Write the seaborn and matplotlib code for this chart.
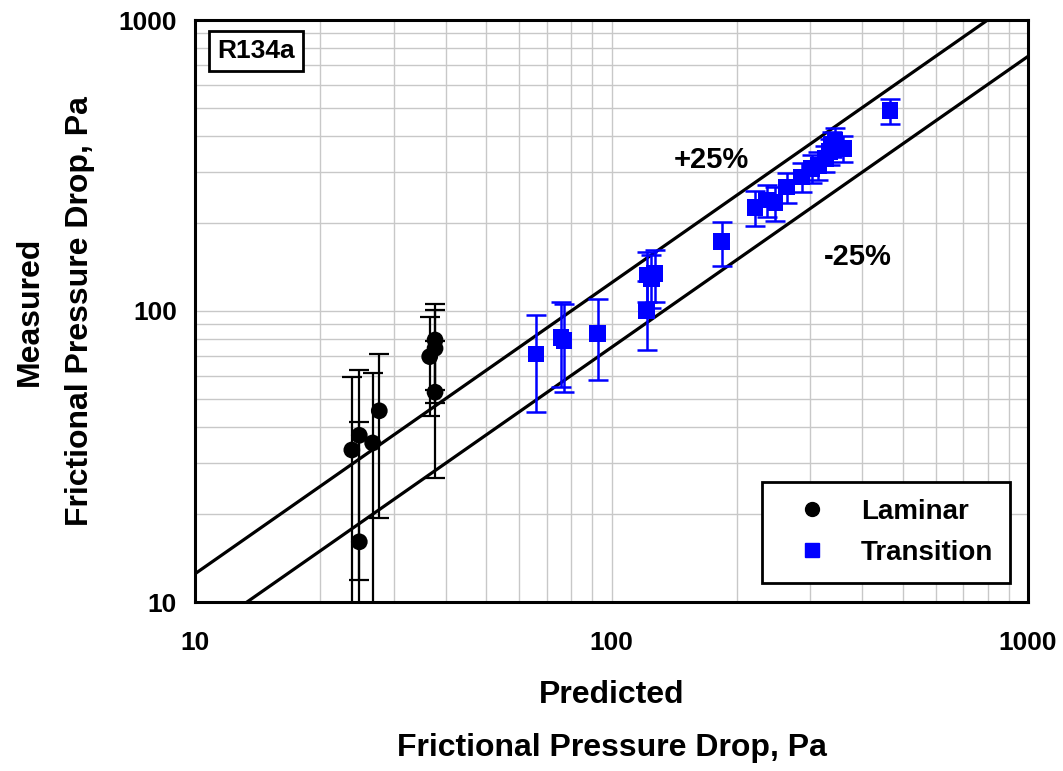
import numpy as np
import pandas as pd
import matplotlib
matplotlib.use("Agg")
import matplotlib.pyplot as plt
import seaborn as sns
from matplotlib.lines import Line2D

# ---- data ----
lam_pred = [23.8, 24.8, 24.8, 26.7, 27.7, 37.7, 37.7, 36.6, 37.7]
lam_meas = [33.3, 37.4, 16.1, 35.2, 45.4, 79.5, 74.4, 69.7, 52.6]
lam_err  = [26.0, 25.5, 25.6, 26.0, 26.0, 26.0, 26.0, 26.0, 26.0]

tr_pred = [65.9, 75.6, 76.9, 92.7, 121.5, 121.9, 127.0, 124.5, 183.7,
           221.0, 236.0, 247.0, 263.5, 286.0, 302.5, 314.0, 326.0, 334.0,
           338.0, 344.0, 360.0, 466.5]
tr_meas = [71.1, 81.2, 79.1, 83.8, 100.2, 133.0, 134.8, 129.0, 173.0,
           227.0, 240.6, 235.5, 267.0, 289.0, 309.0, 317.0, 335.0, 353.0,
           375.0, 387.0, 362.0, 488.0]
tr_err  = [26.0, 26.5, 26.5, 26.0, 27.0, 26.0, 27.0, 27.0, 30.0,
           31.0, 31.0, 31.0, 32.0, 33.0, 34.0, 34.0, 35.0, 36.0,
           37.0, 38.0, 37.0, 48.0]

band_x = [10, 1000]
band_factors = [1.25, 0.75]
band_labels = ["+25%", "-25%"]

xticks = [10, 100, 1000]
yticks = [10, 100, 1000]

# ---- styling ----
sns.set_style("white")
plt.rcParams['font.family'] = ['Liberation Sans', 'DejaVu Sans']
plt.rcParams['font.weight'] = 'bold'
plt.rcParams['text.color'] = 'black'
plt.rcParams['axes.labelcolor'] = 'black'
plt.rcParams['xtick.color'] = 'black'
plt.rcParams['ytick.color'] = 'black'

fig = plt.figure(figsize=(10.63, 7.71), dpi=100)
ax = fig.add_axes([195/1063, 1-602/771, (1028-195)/1063, (602-20)/771])

ax.set_xscale('log')
ax.set_yscale('log')
ax.set_xlim(10, 1000)
ax.set_ylim(10, 1000)

ax.grid(True, which='both', color='#c8c8c8', linewidth=1.0, zorder=0)
ax.set_axisbelow(True)

# diagonal +/-25% lines
for f, lab in zip(band_factors, band_labels):
    dfl = pd.DataFrame({"x": band_x, "y": [v * f for v in band_x]})
    sns.lineplot(data=dfl, x="x", y="y", ax=ax, color='black', linewidth=2.3,
                 legend=False, zorder=3)

# error bars
ax.errorbar(lam_pred, lam_meas, yerr=lam_err, fmt='none', ecolor='black',
            elinewidth=1.6, capsize=7, capthick=1.6, zorder=4)
ax.errorbar(tr_pred, tr_meas, yerr=tr_err, fmt='none', ecolor='#0000ff',
            elinewidth=1.8, capsize=7.5, capthick=1.8, zorder=4)

df = pd.DataFrame({
    "pred": lam_pred + tr_pred,
    "meas": lam_meas + tr_meas,
    "regime": ["Laminar"] * len(lam_pred) + ["Transition"] * len(tr_pred),
})
sns.scatterplot(data=df, x="pred", y="meas", hue="regime", style="regime",
                palette={"Laminar": "black", "Transition": "#0000ff"},
                markers={"Laminar": "o", "Transition": "s"},
                s=145, edgecolor='none', linewidth=0, ax=ax, legend=False,
                zorder=5)

ax.set_xlim(10, 1000)
ax.set_ylim(10, 1000)
ax.set_xticks(xticks)
ax.set_yticks(yticks)
ax.set_xticklabels([str(t) for t in xticks])
ax.set_yticklabels([str(t) for t in yticks])
ax.xaxis.set_minor_formatter(matplotlib.ticker.NullFormatter())
ax.yaxis.set_minor_formatter(matplotlib.ticker.NullFormatter())
ax.tick_params(which='minor', length=0)
ax.tick_params(which='major', direction='out', length=6, width=1.5,
               color='black', labelsize=19, labelcolor='black')
ax.tick_params(axis='x', pad=15)
ax.tick_params(axis='y', pad=7)
for lab in ax.get_xticklabels() + ax.get_yticklabels():
    lab.set_fontweight('bold')
ax.set_xlabel("")
ax.set_ylabel("")

for sp in ax.spines.values():
    sp.set_visible(True)
    sp.set_color('black')
    sp.set_linewidth(2.2)

# annotations
ax.text(0.62, 0.76, band_labels[0], transform=ax.transAxes, fontsize=21,
        fontweight='bold', ha='center', va='center')
ax.text(0.796, 0.592, band_labels[1], transform=ax.transAxes, fontsize=21,
        fontweight='bold', ha='center', va='center')

ax.text(0.0732, 0.9467, "R134a", transform=ax.transAxes, fontsize=19,
        fontweight='bold', ha='center', va='center', zorder=6,
        bbox=dict(boxstyle='square,pad=0.3', facecolor='white',
                  edgecolor='black', linewidth=2))

# legend
handles = [
    Line2D([], [], linestyle='none', marker='o', color='black', markersize=10),
    Line2D([], [], linestyle='none', marker='s', color='#0000ff', markersize=10),
]
leg = ax.legend(handles, ["Laminar", "Transition"], loc='lower right',
                bbox_to_anchor=(0.978, 0.033), prop={'size': 20, 'weight': 'bold'},
                frameon=True, fancybox=False, framealpha=1, edgecolor='black',
                handlelength=2.4, handletextpad=0.55, borderpad=0.6,
                borderaxespad=0, labelspacing=0.55)
leg.get_frame().set_linewidth(2)
leg.set_zorder(7)

# axis labels as separate lines
cx = (195 + 1028) / 2 / 1063
fig.text(cx, 1 - 695/771, "Predicted", fontsize=23, fontweight='bold',
         ha='center', va='center')
fig.text(cx, 1 - 748/771, "Frictional Pressure Drop, Pa", fontsize=23,
         fontweight='bold', ha='center', va='center')
cy = 1 - 311/771
fig.text(30/1063, cy, "Measured", fontsize=23, fontweight='bold',
         ha='center', va='center', rotation=90)
fig.text(80/1063, cy, "Frictional Pressure Drop, Pa", fontsize=23,
         fontweight='bold', ha='center', va='center', rotation=90)

fig.savefig("out.png", dpi=100)
